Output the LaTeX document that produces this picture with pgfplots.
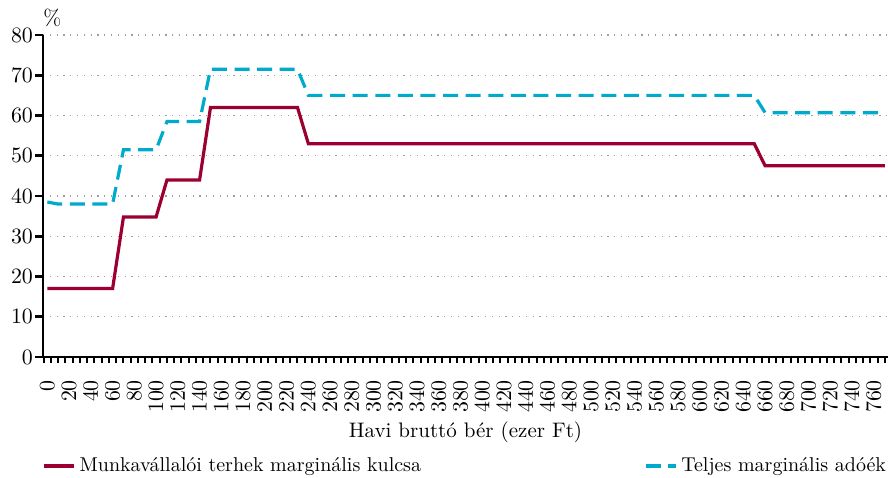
\documentclass[border=0pt]{standalone}
\usepackage{pgfplots}
\pgfplotsset{compat=1.18}
\definecolor{cred}{RGB}{155,0,48}
\definecolor{cblue}{RGB}{0,170,204}
\begin{document}
\begin{tikzpicture}
\begin{axis}[
  name=ax,
  scale only axis,
  width=422.5pt, height=161pt,
  xmin=-4, xmax=773, ymin=0, ymax=80,
  axis x line=bottom, axis y line=left,
  axis line style={line width=1.4pt, black, -},
  xtick={0,20,...,760},
  minor xtick={-3.33333,3.33333,...,773},
  major x tick style={draw=none},
  minor x tick style={line width=1pt, black},
  minor tick length=3pt,
  xticklabel style={rotate=90, anchor=east, font=\fontsize{11}{13}\selectfont, xshift=-4pt},
  ytick={0,10,...,80},
  major y tick style={line width=1.3pt, black},
  major tick length=4pt,
  tick align=outside,
  yticklabel style={font=\fontsize{11}{13}\selectfont, xshift=2.5pt},
  ymajorgrids=true,
  grid style={gray!75, line width=0.6pt, dash pattern=on 0.6pt off 2.8pt},
  xlabel={Havi bruttó bér (ezer Ft)},
  xlabel style={font=\fontsize{10.5}{12}\selectfont, at={(axis description cs:0.5,0)}, anchor=north, yshift=-29pt},
  legend columns=2,
  legend style={draw=none, at={(axis description cs:0,0)}, anchor=west, yshift=-54.5pt, xshift=-0.5pt, inner sep=0pt,
    font=\normalsize,
    /tikz/every even column/.append style={column sep=109.5pt}},
  legend image code/.code={\draw[#1] (0pt,0pt) -- (15pt,0pt);},
  clip=false,
]
\addplot[cred, line width=1.6pt] coordinates {
(0,17) (60,17) (70,34.8) (100,34.8) (110,44) (140,44) (150,62) (230,62) (240,53) (650,53) (660,47.5) (770,47.5)};
\addlegendentry{Munkavállalói terhek marginális kulcsa}
\addplot[cblue, line width=1.6pt, dash pattern=on 7.5pt off 3.8pt] coordinates {
(0,38.5) (10,38) (60,38) (70,51.5) (100,51.5) (110,58.5) (140,58.5) (150,71.5) (230,71.5) (240,65) (650,65) (660,60.7) (770,60.7)};
\addlegendentry{Teljes marginális adóék}
\end{axis}
\node[anchor=south west, inner sep=0pt, font=\fontsize{11}{13}\selectfont] at ([yshift=4pt]ax.north west) {\%};
\pgfresetboundingbox
\path ([shift={(-21.5pt,-60pt)}]ax.south west) rectangle ([shift={(0pt,17.5pt)}]ax.north east);
\end{tikzpicture}
\end{document}
